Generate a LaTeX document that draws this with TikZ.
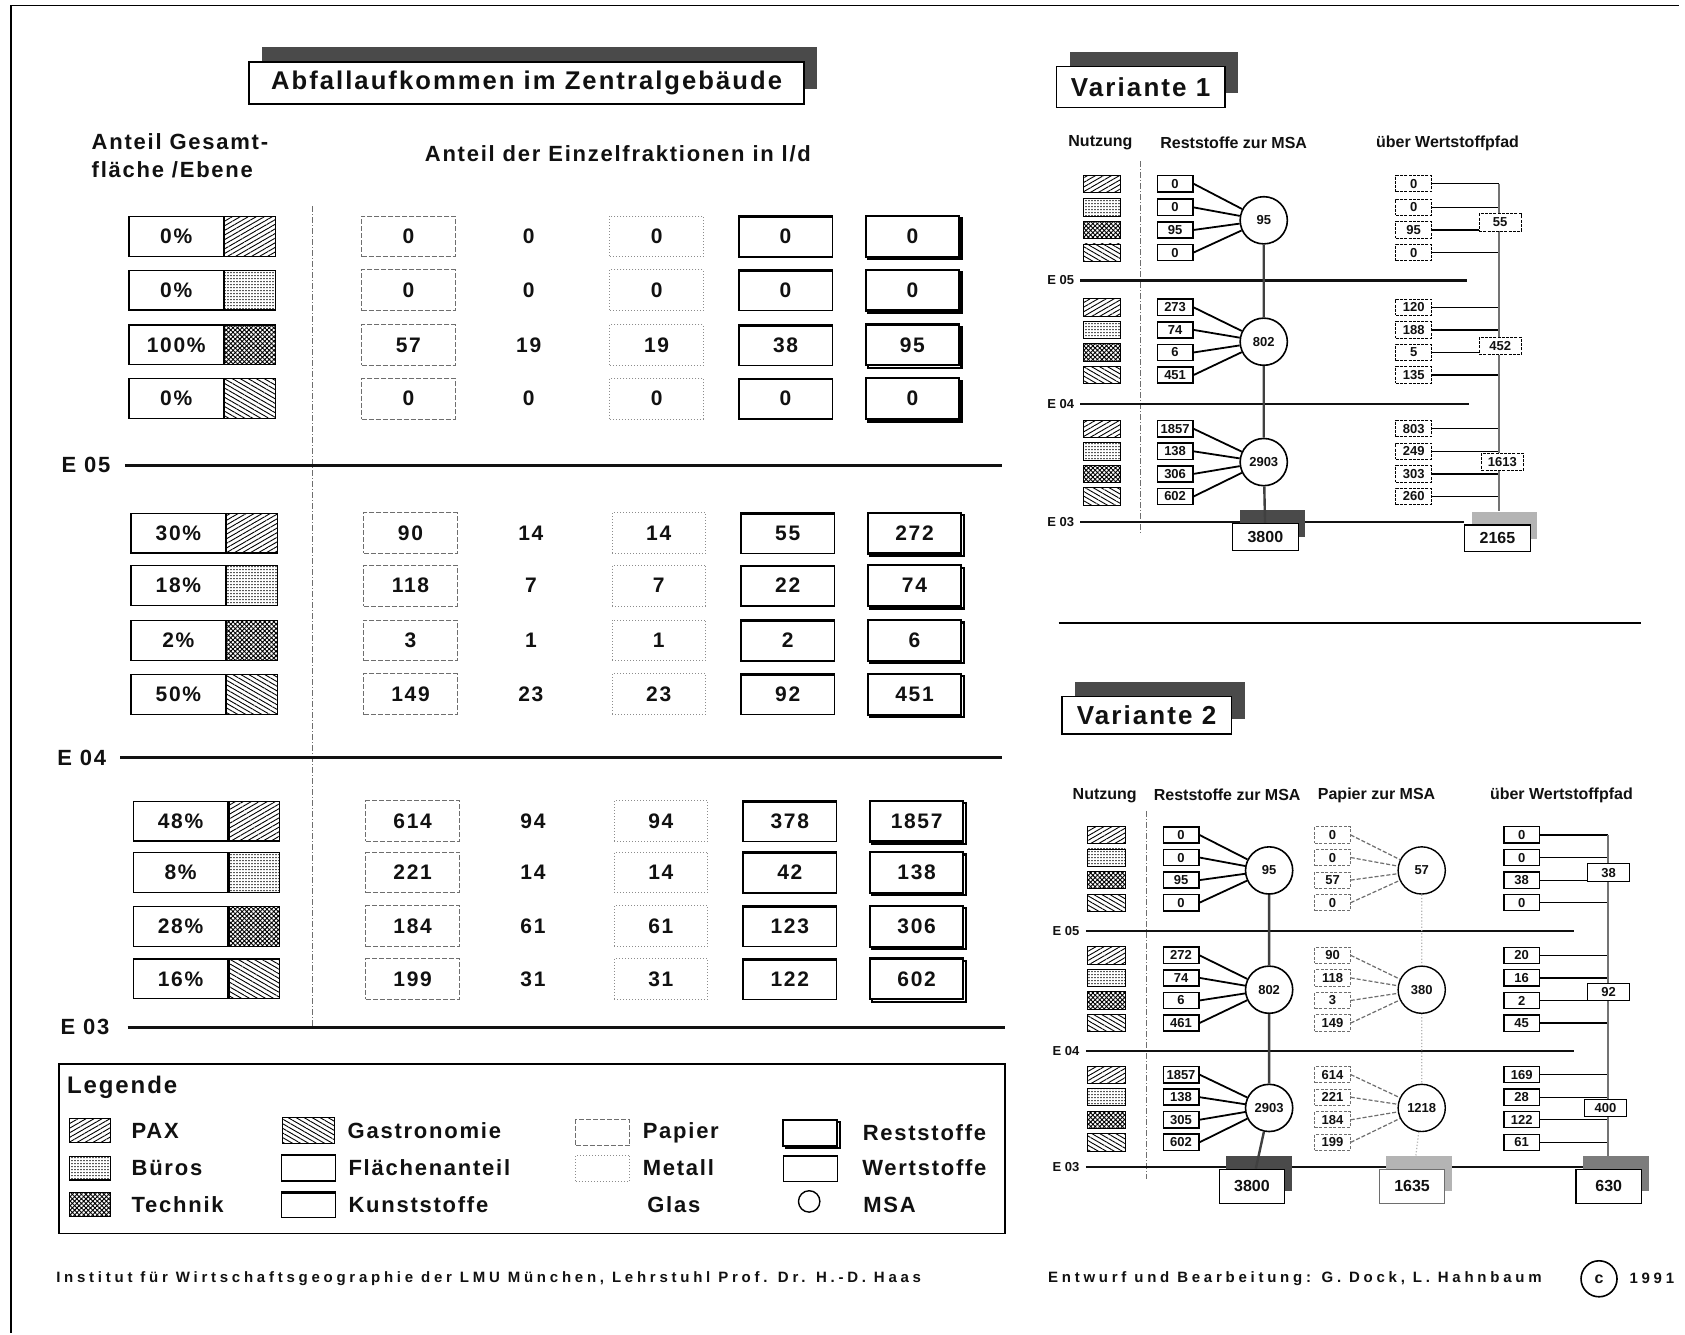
\documentclass[tikz,border=0pt]{standalone}
\usepackage{fontspec}
\setmainfont{Liberation Sans}
\newfontfamily\plakat{Liberation Sans}[LetterSpace=8]
\newfontfamily\weit{Liberation Sans}[LetterSpace=25]
\usetikzlibrary{positioning,patterns,patterns.meta,shadows}
\definecolor{PlanSchwarz}{HTML}{111111}
\definecolor{SchattenDunkel}{HTML}{4A4A4A}
\definecolor{SchattenMittel}{HTML}{7C7C7C}
\definecolor{SchattenHell}{HTML}{B4B4B4}
\definecolor{RandGrau}{HTML}{6E6E6E}
\definecolor{PunktGrau}{HTML}{8C8C8C}
\newcommand{\Groesse}[1]{\fontsize{#1}{#1}\selectfont}

\begin{document}
\begin{tikzpicture}[
  x=0.5373pt, y=-0.5373pt,
  every node/.style={inner sep=0pt, text=PlanSchwarz},
  ebene/.style={line width=1.4pt, draw=PlanSchwarz},
  elabel/.style={font=\Groesse{11}\bfseries\plakat},
  kopf/.style={font=\Groesse{11}\bfseries\plakat},
  titel/.style={draw, line width=0.8pt, fill=white, font=\Groesse{12.8}\bfseries\plakat,
    general shadow={shadow xshift=6.6pt, shadow yshift=7.4pt, fill=SchattenDunkel}},
  flaeche/.style={draw, line width=0.6pt, fill=white, minimum width=47.3pt, minimum height=19.9pt,
    font=\Groesse{10.5}\bfseries\plakat},
  muster/.style={draw, line width=0.6pt, minimum width=25.3pt, minimum height=19.9pt},
  nutz1/.style={pattern={Lines[angle=30,distance=2pt,line width=0.45pt]}},
  nutz2/.style={pattern={Dots[distance=1.5pt,radius=0.4pt]}},
  nutz3/.style={pattern={Hatch[angle=45,distance=1.6pt,line width=0.45pt]}},
  nutz4/.style={pattern={Lines[angle=-30,distance=2pt,line width=0.45pt]}},
  oberkante/.style={path picture={\draw[line width=#1]
    (path picture bounding box.north west) -- (path picture bounding box.north east);}},
  papierrand/.style={draw=RandGrau, line width=0.5pt, dash pattern=on 2.5pt off 1pt},
  metallrand/.style={draw=PunktGrau, line width=0.5pt, densely dotted},
  kunstrand/.style={draw, line width=0.7pt, oberkante=2pt},
  restrand/.style={draw, line width=1.1pt, copy shadow={shadow xshift=1.2pt, shadow yshift=-1.2pt}},
  wert/.style={minimum width=46.7pt, minimum height=20.4pt, fill=white, font=\Groesse{10.5}\bfseries\plakat},
  legbox/.style={minimum width=27pt, minimum height=13pt, fill=white},
  legtext/.style={anchor=west, font=\Groesse{11}\bfseries\plakat},
  ikon/.style={draw, line width=0.4pt, minimum width=18.8pt, minimum height=8.6pt},
  klein/.style={draw, line width=0.8pt, fill=white, minimum width=17.7pt, minimum height=8.1pt,
    font=\Groesse{6.5}\bfseries},
  kleinw/.style={klein, line width=0.5pt, dash pattern=on 1.5pt off 0.6pt},
  kleinp/.style={klein, draw=RandGrau, line width=0.5pt, dash pattern=on 1.5pt off 0.8pt},
  kleinv/.style={klein, line width=0.6pt},
  msa/.style={circle, draw, line width=0.8pt, fill=white, minimum size=23.6pt, font=\Groesse{6.5}\bfseries},
  summe/.style={draw, line width=0.5pt, dash pattern=on 1.5pt off 0.6pt, fill=white,
    minimum width=21pt, minimum height=8.6pt, font=\Groesse{6.5}\bfseries},
  gesamt/.style={draw, line width=0.6pt, fill=white, minimum width=32.8pt, minimum height=13.4pt,
    font=\Groesse{8}\bfseries},
  schatten/.style={general shadow={shadow xshift=3.5pt, shadow yshift=6.5pt, fill=#1}},
  verbind/.style={line width=0.9pt},
  papierlinie/.style={line width=0.6pt, draw=RandGrau, dash pattern=on 2pt off 1pt},
  strang/.style={line width=1.2pt, draw=black!75},
  sammler/.style={line width=1.1pt, draw=black!55},
  pfad/.style={line width=0.6pt},
  trenn/.style={line width=0.5pt, draw=RandGrau, dash pattern=on 3pt off 1pt on 0.5pt off 1pt},
  vkopf/.style={font=\Groesse{8}\bfseries},
  vel/.style={font=\Groesse{6.5}\bfseries},
  fuss/.style={anchor=west, font=\Groesse{7.5}\bfseries\weit},
]
\fill[white] (0,0) rectangle (1568,1242);
\useasboundingbox (0,0) rectangle (1568,1242);
\draw[line width=0.8pt] (10,1240) -- (10,5) -- (1562,5);

% Haupttabelle
\node[titel, minimum width=277.3pt, minimum height=21pt] (haupttitel) at (490,77.5) {Abfallaufkommen im Zentralgebäude};
\node[kopf, anchor=west, align=left, font=\fontsize{11}{14}\selectfont\bfseries\plakat] (flaechekopf) at (85,145) {Anteil Gesamt-\\fläche /Ebene};
\node[kopf] (fraktionkopf) at (575,143) {Anteil der Einzelfraktionen in l/d};

\coordinate (teilo) at (291,192);
\coordinate (teilu) at (291,955);
\draw[trenn] (teilo) -- (teilu);

\node[elabel] (e05) at (80,433) {E 05};
\node[elabel] (e04) at (76,705) {E 04};
\node[elabel] (e03) at (79,956) {E 03};
\coordinate (e05r) at (932,433);
\coordinate (e04r) at (932,705);
\coordinate (e03r) at (935,956);
\draw[ebene] ([xshift=7pt]e05.east) -- (e05.east -| e05r);
\draw[ebene] ([xshift=7pt]e04.east) -- (e04.east -| e04r);
\draw[ebene] ([xshift=9pt]e03.east) -- (e03.east -| e03r);

\foreach \grp/\row/\y/\dx/\pct/\pa/\gl/\me/\ku/\re in {
  1/1/220/0/0\%/0/0/0/0/0,
  1/2/270/0/0\%/0/0/0/0/0,
  1/3/321/0/100\%/57/19/19/38/95,
  1/4/371/0/0\%/0/0/0/0/0,
  2/1/496/2/30\%/90/14/14/55/272,
  2/2/545/2/18\%/118/7/7/22/74,
  2/3/596/2/2\%/3/1/1/2/6,
  2/4/646/2/50\%/149/23/23/92/451,
  3/1/764/4/48\%/614/94/94/378/1857,
  3/2/812/4/8\%/221/14/14/42/138,
  3/3/862/4/28\%/184/61/61/123/306,
  3/4/911/4/16\%/199/31/31/122/602}{
  \node[flaeche] (p\grp\row) at (164+\dx,\y) {\pct};
  \node[muster, nutz\row, anchor=west] (m\grp\row) at (p\grp\row.east) {};
  \node[wert, papierrand] (pap\grp\row) at (380+\dx,\y) {\pa};
  \node[wert, fill=none] (gla\grp\row) at (492+\dx,\y) {\gl};
  \node[wert, metallrand] (met\grp\row) at (611+\dx,\y) {\me};
  \node[wert, kunstrand] (kun\grp\row) at (731+\dx,\y) {\ku};
  \node[wert, restrand] (res\grp\row) at (849+\dx,\y) {\re};
}

% Legende
\node[draw, line width=0.8pt, minimum width=472.8pt, minimum height=84.9pt] (legende) at (495,1069) {};
\node[anchor=west, font=\Groesse{12}\bfseries\plakat] (legtitel) at (62,1012) {Legende};
\node[muster, nutz1, minimum width=20.4pt, minimum height=11.8pt] (lpax) at (84,1052) {};
\node[muster, nutz2, minimum width=20.4pt, minimum height=11.8pt] (lbuero) at (84,1087) {};
\node[muster, nutz3, minimum width=20.4pt, minimum height=11.8pt] (ltech) at (84,1121) {};
\node[legtext, right=10pt of lpax] (tpax) {PAX};
\node[legtext, right=10pt of lbuero] (tbuero) {Büros};
\node[legtext, right=10pt of ltech] (ttech) {Technik};
\node[muster, nutz4, minimum width=26.3pt, minimum height=12.9pt] (lgast) at (287,1052) {};
\node[legbox, draw, line width=0.7pt] (lflaeche) at (287,1087) {};
\node[legbox, kunstrand] (lkunst) at (287,1121) {};
\node[legtext, right=6pt of lgast] (tgast) {Gastronomie};
\node[legtext, right=6pt of lflaeche] (tflaeche) {Flächenanteil};
\node[legtext, right=6pt of lkunst] (tkunst) {Kunststoffe};
\node[legbox, papierrand] (lpapier) at (561,1054) {};
\node[legbox, metallrand] (lmetall) at (561,1087) {};
\node[legtext, right=6pt of lpapier] (tpapier) {Papier};
\node[legtext, right=6pt of lmetall] (tmetall) {Metall};
\node[legtext] (tglas) at (602,1121) {Glas};
\node[legbox, restrand] (lrest) at (754,1054) {};
\node[legbox, draw, line width=0.6pt, oberkante=1.8pt] (lwert) at (754,1087) {};
\node[circle, draw, line width=0.7pt, minimum size=10.7pt] (lmsa) at (753,1118) {};
\node[legtext, right=12pt of lrest] (trest) {Reststoffe};
\node[legtext, right=12pt of lwert] (twert) {Wertstoffe};
\node[legtext] (tmsa) at (803,1121) {MSA};

% Variante 1
\node[titel, minimum width=84.4pt, minimum height=20.4pt, font=\Groesse{13}\bfseries\plakat] (var1) at (1061.5,81) {Variante 1};
\node[vkopf] (v1nutz) at (1024,133) {Nutzung};
\node[vkopf] (v1rest) at (1148,133) {Reststoffe zur MSA};
\node[vkopf] (v1wert) at (1347,133) {über Wertstoffpfad};
\coordinate (v1to) at (1061,150);
\coordinate (v1tu) at (1061,497);
\draw[trenn] (v1to) -- (v1tu);
\node[vel] (v1e05) at (987,261) {E 05};
\node[vel] (v1e04) at (987,376) {E 04};
\node[vel] (v1e03) at (987,486) {E 03};
\coordinate (v1e05r) at (1365,261);
\coordinate (v1e04r) at (1367,376);
\coordinate (v1e03r) at (1362,486);
\draw[ebene, line width=1.1pt] ([xshift=3pt]v1e05.east) -- (v1e05.east -| v1e05r);
\draw[ebene, line width=1.1pt] ([xshift=3pt]v1e04.east) -- (v1e04.east -| v1e04r);
\draw[ebene, line width=1.1pt] ([xshift=3pt]v1e03.east) -- (v1e03.east -| v1e03r);

\node[msa] (ak1) at (1176,205) {95};
\node[msa] (ak2) at (1176,318) {802};
\node[msa] (ak3) at (1176,430) {2903};
\coordinate (v1sam) at (1395,171);

\foreach \grp/\row/\y/\rs/\ws in {
  1/1/171/0/0, 1/2/193/0/0, 1/3/214/95/95, 1/4/235/0/0,
  2/1/286/273/120, 2/2/307/74/188, 2/3/328/6/5, 2/4/349/451/135,
  3/1/399/1857/803, 3/2/420/138/249, 3/3/441/306/303, 3/4/462/602/260}{
  \node[ikon, nutz\row] (an\grp\row) at (1025.5,\y) {};
  \node[klein] (ar\grp\row) at (1093.5,\y) {\rs};
  \node[kleinw] (aw\grp\row) at (1315.5,\y) {\ws};
  \draw[verbind] (ar\grp\row.east) -- (ak\grp);
  \draw[pfad] (aw\grp\row.east) -- (aw\grp\row.east -| v1sam);
}

\node[gesamt, schatten=SchattenDunkel] (t1rest) at (1177.5,499.5) {3800};
\node[gesamt, schatten=SchattenHell] (t1wert) at (1393.5,501) {2165};
\draw[sammler] (v1sam) -- ([yshift=6.5pt]t1wert.north -| v1sam);
\node[summe] (as1) at (1396,207) {55};
\node[summe] (as2) at (1396,322) {452};
\node[summe] (as3) at (1398,430) {1613};
\draw[strang] (ak1) -- (ak2) (ak2) -- (ak3) (ak3) -- (t1rest);

\coordinate (trennl) at (985,580);
\coordinate (trennr) at (1527,580);
\draw[line width=1pt] (trennl) -- (trennr);

% Variante 2
\node[titel, minimum width=84.9pt, minimum height=18.8pt, font=\Groesse{13}\bfseries\plakat] (var2) at (1067,665.5) {Variante 2};
\node[vkopf] (v2nutz) at (1028,740) {Nutzung};
\node[vkopf] (v2rest) at (1142,740) {Reststoffe zur MSA};
\node[vkopf] (v2pap) at (1281,740) {Papier zur MSA};
\node[vkopf] (v2wert) at (1453,740) {über Wertstoffpfad};
\coordinate (v2to) at (1067,755);
\coordinate (v2tu) at (1067,1097);
\draw[trenn] (v2to) -- (v2tu);
\node[vel] (v2e05) at (992,866) {E 05};
\node[vel] (v2e04) at (992,978) {E 04};
\node[vel] (v2e03) at (992,1086) {E 03};
\coordinate (v2e05r) at (1465,866);
\coordinate (v2e04r) at (1465,978);
\coordinate (v2e03r) at (1530,1086);
\draw[ebene, line width=1.1pt] ([xshift=3pt]v2e05.east) -- (v2e05.east -| v2e05r);
\draw[ebene, line width=1.1pt] ([xshift=3pt]v2e04.east) -- (v2e04.east -| v2e04r);
\draw[ebene, line width=1.1pt] ([xshift=3pt]v2e03.east) -- (v2e03.east -| v2e03r);

\node[msa] (bk1) at (1181,810) {95};
\node[msa] (bk2) at (1181,921) {802};
\node[msa] (bk3) at (1181,1031) {2903};
\node[msa, line width=0.7pt] (bq1) at (1323,810) {57};
\node[msa, line width=0.7pt] (bq2) at (1323,921) {380};
\node[msa, line width=0.7pt] (bq3) at (1323,1031) {1218};
\coordinate (v2sam) at (1496,777);

\foreach \grp/\row/\y/\rs/\ps/\ws in {
  1/1/777/0/0/0, 1/2/798/0/0/0, 1/3/819/95/57/38, 1/4/840/0/0/0,
  2/1/889/272/90/20, 2/2/910/74/118/16, 2/3/931/6/3/2, 2/4/952/461/149/45,
  3/1/1000/1857/614/169, 3/2/1021/138/221/28, 3/3/1042/305/184/122, 3/4/1063/602/199/61}{
  \node[ikon, nutz\row] (bn\grp\row) at (1029.5,\y) {};
  \node[klein] (br\grp\row) at (1099,\y) {\rs};
  \node[kleinp] (bp\grp\row) at (1240,\y) {\ps};
  \node[kleinv] (bw\grp\row) at (1416,\y) {\ws};
  \draw[verbind] (br\grp\row.east) -- (bk\grp);
  \draw[papierlinie] (bp\grp\row.east) -- (bq\grp);
  \draw[pfad] (bw\grp\row.east) -- (bw\grp\row.east -| v2sam);
}

\node[gesamt, minimum height=17.2pt, schatten=SchattenDunkel] (t2rest) at (1165,1104) {3800};
\node[gesamt, minimum height=17.2pt, draw=RandGrau, schatten=SchattenHell] (t2pap) at (1314,1104) {1635};
\node[gesamt, minimum height=17.2pt, schatten=SchattenMittel] (t2wert) at (1497,1104) {630};
\draw[sammler] (v2sam) -- ([yshift=6.5pt]t2wert.north -| v2sam);
\node[summe, dash pattern=] (bs1) at (1497,812) {38};
\node[summe, dash pattern=] (bs2) at (1497,923) {92};
\node[summe, dash pattern=] (bs3) at (1494,1031) {400};
\draw[strang] (bk1) -- (bk2) (bk2) -- (bk3) (bk3) -- (t2rest);
\draw[papierlinie, draw=SchattenHell, densely dotted] (bq1) -- (bq2) (bq2) -- (bq3) (bq3) -- (t2pap);

% Fusszeile
\node[fuss] (institut) at (52,1190) {Institut für Wirtschaftsgeographie der LMU München, Lehrstuhl Prof. Dr. H.-D. Haas};
\node[fuss] (entwurf) at (975,1190) {Entwurf und Bearbeitung: G. Dock, L. Hahnbaum};
\node[circle, draw, line width=0.8pt, minimum size=18pt, font=\Groesse{8}\bfseries] (urheber) at (1488,1190) {c};
\node[fuss] (jahr) at (1516,1190) {1991};
\end{tikzpicture}
\end{document}
